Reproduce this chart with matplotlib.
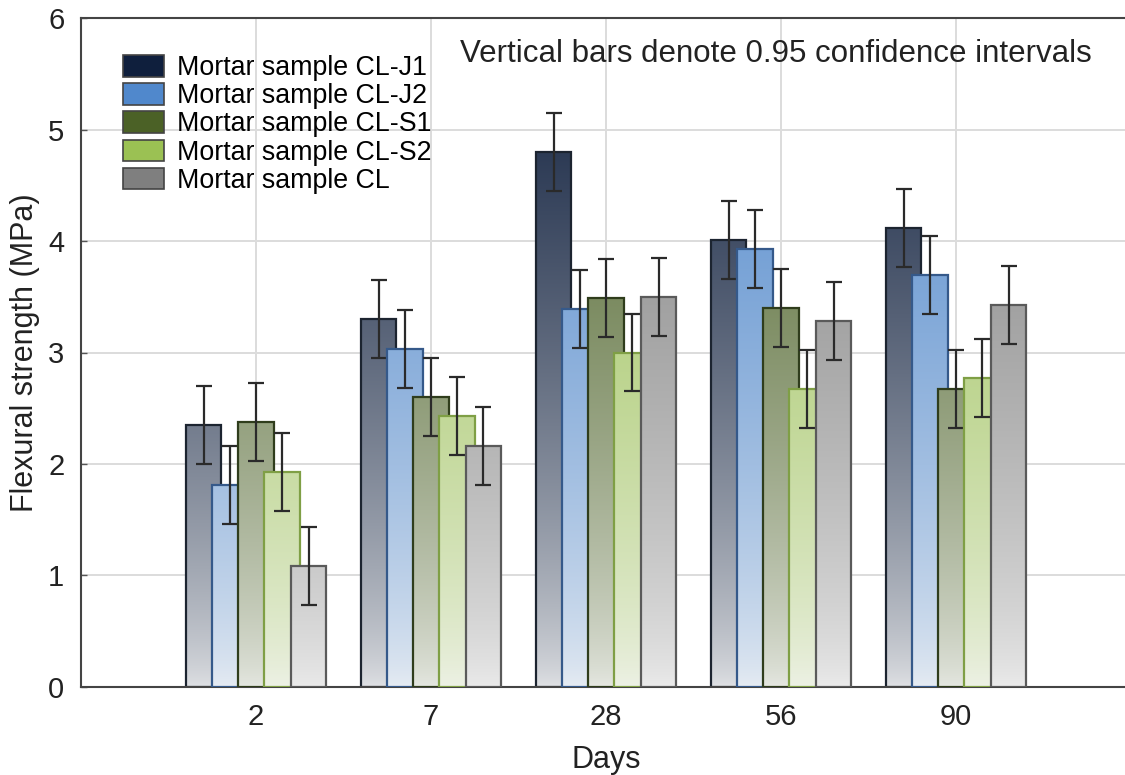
import numpy as np
import matplotlib
matplotlib.use("Agg")
import matplotlib.pyplot as plt
from matplotlib.patches import Patch
from matplotlib.colors import to_rgb

plt.rcParams['font.family'] = ['Liberation Sans', 'DejaVu Sans']

# Data
days = ["2", "7", "28", "56", "90"]
series = ["Mortar sample CL-J1", "Mortar sample CL-J2", "Mortar sample CL-S1",
          "Mortar sample CL-S2", "Mortar sample CL"]
cl_j1 = [2.35, 3.30, 4.80, 4.01, 4.12]
cl_j2 = [1.81, 3.03, 3.39, 3.93, 3.70]
cl_s1 = [2.38, 2.60, 3.49, 3.40, 2.67]
cl_s2 = [1.93, 2.43, 3.00, 2.67, 2.77]
cl = [1.08, 2.16, 3.50, 3.28, 3.43]
ci = [0.35, 0.35, 0.35, 0.35, 0.35]  # half width of 0.95 CI

values = [cl_j1, cl_j2, cl_s1, cl_s2, cl]
colors = ["#0f1f3d", "#5088cc", "#4b6126", "#9bc153", "#7f7f7f"]
edges = ["#1c2430", "#35598a", "#2f3d1c", "#7f9f45", "#5a5a5a"]

fig = plt.figure(figsize=(11.25, 7.75), dpi=100)
ax = fig.add_axes([81 / 1125, 88.3 / 775, 1050 / 1125, 668.4 / 775])

x = np.arange(1, len(days) + 1)
width = 0.205
step = 0.15
ymax = 6.0

for i, (vals, col, ec) in enumerate(zip(values, colors, edges)):
    pos = x + (i - 2) * step
    base = np.array(to_rgb(col))
    z = 2 + i
    for xp, h in zip(pos, vals):
        # vertical gradient, dark at top of the axis, light at the bottom
        yy = np.linspace(0, h, 200)
        f = 0.1 + 0.9 * (yy / ymax) ** 0.7
        img = base[None, :] * f[:, None] + (1 - f[:, None]) * 0.97
        ax.imshow(img[:, None, :], origin="lower", aspect="auto",
                  extent=[xp - width / 2, xp + width / 2, 0, h],
                  interpolation="bilinear", zorder=z)
    ax.bar(pos, vals, width, fill=False, edgecolor=ec, linewidth=1.6, zorder=z + 0.1)
    ax.errorbar(pos, vals, yerr=ci, fmt="none", ecolor="#2a2a2a", elinewidth=1.6,
                capsize=6, capthick=1.6, zorder=z + 0.2)

ax.set_xlim(0, 6)
ax.set_ylim(0, 6)
ax.set_xticks(x)
ax.set_xticklabels(days)
ax.set_yticks(np.arange(0, 7, 1))
ax.tick_params(axis="both", direction="in", length=4, width=1, colors="#555555",
               labelsize=21, labelcolor="#222222")
ax.tick_params(axis="x", pad=12)
ax.tick_params(axis="y", pad=12)
ax.grid(True, color="#dcdcdc", linewidth=1.4)
ax.set_axisbelow(True)

for s in ["left", "bottom", "top"]:
    ax.spines[s].set_color("#444444")
    ax.spines[s].set_linewidth(1.5)
ax.spines["right"].set_visible(False)

ax.set_xlabel("Days", fontsize=22, color="#222222", labelpad=10)
ax.set_ylabel("Flexural strength (MPa)", fontsize=22, color="#222222", labelpad=6)

handles = [Patch(facecolor=c, edgecolor="#444444", linewidth=1.2) for c in colors]
ax.legend(handles, series, loc="upper left", bbox_to_anchor=(0.025, 0.969),
          frameon=False, fontsize=19.3, labelspacing=0.08, handlelength=1.5,
          handleheight=0.85, handletextpad=0.5, borderaxespad=0.2)

ax.text(0.361, 0.9466, "Vertical bars denote 0.95 confidence intervals",
        transform=ax.transAxes, fontsize=22.5, color="#222222", va="center")

fig.savefig("out.png", dpi=100)
